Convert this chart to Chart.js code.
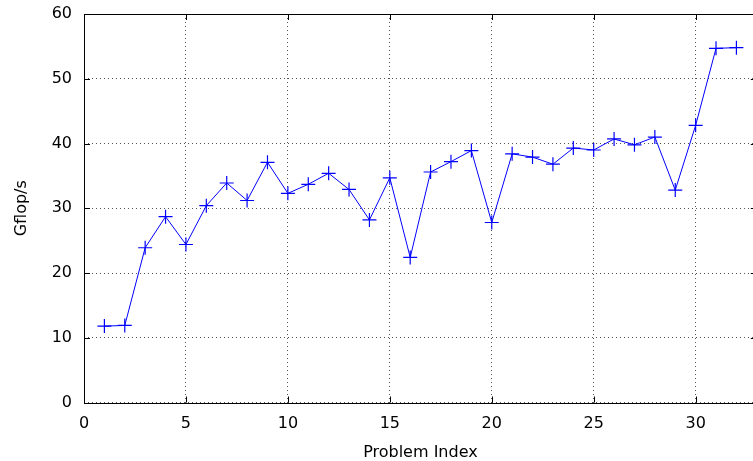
<!DOCTYPE html>
<html>
<head>
<meta charset="utf-8">
<script src="https://cdn.jsdelivr.net/npm/chart.js@4/dist/chart.umd.min.js"></script>
<style>
  html, body { margin: 0; padding: 0; background: #fff; overflow: hidden; }
</style>
</head>
<body>
<canvas id="perfChart" width="765" height="461"></canvas>
<script>
// data
const problemIndex = [1, 2, 3, 4, 5, 6, 7, 8, 9, 10, 11, 12, 13, 14, 15, 16,
                      17, 18, 19, 20, 21, 22, 23, 24, 25, 26, 27, 28, 29, 30, 31, 32];
const gflops = [11.8, 11.9, 23.9, 28.7, 24.4, 30.4, 33.9, 31.2, 37.1, 32.3, 33.7, 35.4,
                32.9, 28.2, 34.7, 22.4, 35.6, 37.2, 38.9, 27.8, 38.4, 37.9, 36.8, 39.3,
                39.0, 40.7, 39.8, 41.0, 32.8, 42.8, 54.7, 54.8];
const xTicks = [0, 5, 10, 15, 20, 25, 30];
const yTicks = [0, 10, 20, 30, 40, 50, 60];

const FONT = 'DejaVu Sans';

// gnuplot style frame with inward ticks on every side
const framePlugin = {
  id: 'frame',
  afterDraw(chart) {
    const { ctx, chartArea: a, scales } = chart;
    const len = 6;
    ctx.save();
    ctx.strokeStyle = '#000';
    ctx.lineWidth = 1;
    ctx.beginPath();
    xTicks.forEach(v => {
      const px = Math.round(scales.x.getPixelForValue(v)) + 0.5;
      ctx.moveTo(px, a.bottom); ctx.lineTo(px, a.bottom - len);
      ctx.moveTo(px, a.top); ctx.lineTo(px, a.top + len);
    });
    yTicks.forEach(v => {
      const py = Math.round(scales.y.getPixelForValue(v)) + 0.5;
      ctx.moveTo(a.left, py); ctx.lineTo(a.left + len, py);
      ctx.moveTo(a.right, py); ctx.lineTo(a.right - len, py);
    });
    ctx.stroke();
    ctx.strokeRect(Math.round(a.left) + 0.5, Math.round(a.top) + 0.5,
                   Math.round(a.right - a.left), Math.round(a.bottom - a.top));
    ctx.restore();
  }
};

new Chart(document.getElementById('perfChart'), {
  type: 'line',
  data: {
    datasets: [{
      data: problemIndex.map((x, i) => ({ x: x, y: gflops[i] })),
      borderColor: '#0000ff',
      borderWidth: 1,
      pointStyle: 'cross',
      pointRadius: 7,
      pointBorderWidth: 1.2,
      pointBorderColor: '#0000ff',
      pointHoverRadius: 7,
      tension: 0
    }]
  },
  options: {
    responsive: false,
    animation: false,
    layout: { padding: { top: 14, right: 4, left: 0, bottom: 0 } },
    plugins: { legend: { display: false }, tooltip: { enabled: false } },
    scales: {
      x: {
        type: 'linear',
        min: 0, max: 33,
        afterBuildTicks: s => { s.ticks = xTicks.map(v => ({ value: v })); },
        afterFit: s => { s.height = 58.5; s.paddingLeft = 0; s.paddingRight = 0; },
        grid: { color: '#555', lineWidth: 1, drawTicks: false },
        border: { display: false, dash: [1, 3] },
        ticks: { color: '#000', padding: 12, font: { family: FONT, size: 16 } },
        title: {
          display: true, text: 'Problem Index', color: '#000',
          padding: 0, font: { family: FONT, size: 16, lineHeight: 1 }
        }
      },
      y: {
        min: 0, max: 60,
        afterBuildTicks: s => { s.ticks = yTicks.map(v => ({ value: v })); },
        afterFit: s => { s.width = 84; s.paddingTop = 0; s.paddingBottom = 0; },
        grid: { color: '#555', lineWidth: 1, drawTicks: false },
        border: { display: false, dash: [1, 3] },
        ticks: { color: '#000', padding: 12, font: { family: FONT, size: 16 } },
        title: {
          display: true, text: 'Gflop/s', color: '#000',
          padding: { top: 14, bottom: 0 }, font: { family: FONT, size: 16, lineHeight: 1 }
        }
      }
    }
  },
  plugins: [framePlugin]
});
</script>
</body>
</html>
